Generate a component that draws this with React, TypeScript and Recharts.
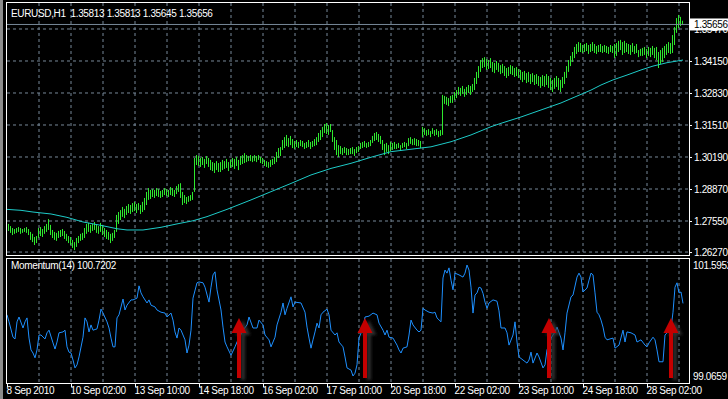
import React from 'react';
import {
  ComposedChart,
  LineChart,
  Bar,
  Line,
  XAxis,
  YAxis,
  CartesianGrid,
  ReferenceLine,
} from 'recharts';

// hourly bars, index 0 = 8 Sep 2010 18:00
const TIME_TICKS = [0, 32, 64, 96, 128, 160, 192, 224, 256, 288, 320];
const TIME_LABELS = [
  '8 Sep 2010', '10 Sep 02:00', '13 Sep 10:00', '14 Sep 18:00', '16 Sep 02:00', '17 Sep 10:00',
  '20 Sep 18:00', '22 Sep 02:00', '23 Sep 10:00', '24 Sep 18:00', '28 Sep 02:00',
];
const GRID_X = [16, 32, 48, 64, 80, 96, 112, 128, 144, 160, 176, 192, 208, 224, 240, 256, 272, 288, 304, 320, 336];
const PRICE_TICKS = [1.3547, 1.3415, 1.3283, 1.3151, 1.3019, 1.2887, 1.2755, 1.2627];
const LAST_PRICE = 1.35656;
const MOM_TICKS = [101.5952, 99.0659];

const HIGH = [
  1.2755, 1.2743, 1.2734, 1.2726, 1.2722, 1.2726, 1.2730, 1.2726, 1.2722, 1.2726,
  1.2730, 1.2722, 1.2710, 1.2702, 1.2689, 1.2693, 1.2726, 1.2730, 1.2722, 1.2734,
  1.2743, 1.2763, 1.2739, 1.2718, 1.2710, 1.2706, 1.2714, 1.2718, 1.2722, 1.2714,
  1.2702, 1.2693, 1.2689, 1.2677, 1.2668, 1.2685, 1.2693, 1.2702, 1.2706, 1.2726,
  1.2743, 1.2747, 1.2739, 1.2743, 1.2751, 1.2739, 1.2734, 1.2747, 1.2739, 1.2726,
  1.2718, 1.2710, 1.2702, 1.2706, 1.2718, 1.2780, 1.2792, 1.2800, 1.2813, 1.2805,
  1.2817, 1.2825, 1.2821, 1.2829, 1.2834, 1.2825, 1.2829, 1.2821, 1.2834, 1.2850,
  1.2875, 1.2891, 1.2883, 1.2887, 1.2883, 1.2891, 1.2887, 1.2879, 1.2883, 1.2891,
  1.2887, 1.2883, 1.2895, 1.2891, 1.2883, 1.2899, 1.2907, 1.2911, 1.2875, 1.2862,
  1.2854, 1.2858, 1.2862, 1.2875, 1.3015, 1.3027, 1.3023, 1.3015, 1.3019, 1.3011,
  1.3023, 1.3015, 1.3007, 1.2998, 1.2994, 1.3002, 1.2994, 1.2998, 1.3007, 1.3002,
  1.3011, 1.2998, 1.3007, 1.3015, 1.3011, 1.3019, 1.3007, 1.3023, 1.3027, 1.3035,
  1.3027, 1.3023, 1.3027, 1.3023, 1.3027, 1.3023, 1.3027, 1.3019, 1.3015, 1.3007,
  1.3002, 1.2998, 1.3007, 1.3011, 1.3019, 1.3040, 1.3056, 1.3060, 1.3089, 1.3101,
  1.3110, 1.3097, 1.3106, 1.3093, 1.3085, 1.3089, 1.3081, 1.3089, 1.3085, 1.3077,
  1.3081, 1.3089, 1.3081, 1.3085, 1.3093, 1.3101, 1.3118, 1.3130, 1.3143, 1.3155,
  1.3159, 1.3151, 1.3155, 1.3130, 1.3101, 1.3089, 1.3068, 1.3064, 1.3056, 1.3060,
  1.3056, 1.3052, 1.3056, 1.3060, 1.3052, 1.3060, 1.3064, 1.3077, 1.3081, 1.3085,
  1.3077, 1.3081, 1.3089, 1.3106, 1.3118, 1.3122, 1.3114, 1.3106, 1.3089, 1.3073,
  1.3077, 1.3068, 1.3081, 1.3077, 1.3081, 1.3073, 1.3077, 1.3068, 1.3077, 1.3081,
  1.3077, 1.3097, 1.3101, 1.3093, 1.3097, 1.3093, 1.3089, 1.3085, 1.3143, 1.3138,
  1.3130, 1.3134, 1.3126, 1.3138, 1.3130, 1.3134, 1.3126, 1.3130, 1.3275, 1.3271,
  1.3267, 1.3262, 1.3271, 1.3275, 1.3287, 1.3295, 1.3308, 1.3304, 1.3312, 1.3300,
  1.3308, 1.3316, 1.3312, 1.3320, 1.3345, 1.3370, 1.3394, 1.3419, 1.3427, 1.3431,
  1.3423, 1.3419, 1.3427, 1.3411, 1.3407, 1.3415, 1.3407, 1.3398, 1.3403, 1.3394,
  1.3386, 1.3390, 1.3398, 1.3394, 1.3386, 1.3390, 1.3382, 1.3378, 1.3370, 1.3374,
  1.3365, 1.3370, 1.3361, 1.3365, 1.3357, 1.3361, 1.3353, 1.3349, 1.3357, 1.3353,
  1.3361, 1.3353, 1.3345, 1.3337, 1.3345, 1.3353, 1.3345, 1.3337, 1.3349, 1.3370,
  1.3394, 1.3419, 1.3436, 1.3452, 1.3473, 1.3485, 1.3493, 1.3489, 1.3481, 1.3485,
  1.3489, 1.3481, 1.3485, 1.3493, 1.3485, 1.3477, 1.3481, 1.3485, 1.3477, 1.3481,
  1.3477, 1.3473, 1.3481, 1.3477, 1.3485, 1.3489, 1.3498, 1.3502, 1.3493, 1.3498,
  1.3489, 1.3485, 1.3481, 1.3489, 1.3477, 1.3485, 1.3460, 1.3465, 1.3469, 1.3473,
  1.3465, 1.3473, 1.3469, 1.3477, 1.3469, 1.3473, 1.3452, 1.3460, 1.3469, 1.3477,
  1.3485, 1.3493, 1.3489, 1.3522, 1.3555, 1.3592, 1.3605, 1.3597, 1.3581,
];

const LOW = [
  1.2718, 1.2714, 1.2706, 1.2697, 1.2702, 1.2706, 1.2710, 1.2702, 1.2706, 1.2710,
  1.2706, 1.2697, 1.2677, 1.2668, 1.2656, 1.2664, 1.2685, 1.2693, 1.2689, 1.2702,
  1.2710, 1.2718, 1.2697, 1.2685, 1.2677, 1.2673, 1.2685, 1.2689, 1.2693, 1.2681,
  1.2673, 1.2664, 1.2656, 1.2644, 1.2635, 1.2648, 1.2664, 1.2673, 1.2677, 1.2685,
  1.2702, 1.2710, 1.2706, 1.2714, 1.2718, 1.2706, 1.2702, 1.2710, 1.2697, 1.2689,
  1.2681, 1.2677, 1.2664, 1.2673, 1.2685, 1.2710, 1.2743, 1.2759, 1.2772, 1.2767,
  1.2780, 1.2788, 1.2784, 1.2792, 1.2796, 1.2788, 1.2800, 1.2784, 1.2792, 1.2800,
  1.2821, 1.2842, 1.2846, 1.2854, 1.2850, 1.2858, 1.2854, 1.2850, 1.2854, 1.2862,
  1.2858, 1.2854, 1.2862, 1.2858, 1.2854, 1.2866, 1.2875, 1.2850, 1.2821, 1.2829,
  1.2825, 1.2834, 1.2838, 1.2842, 1.2875, 1.2986, 1.2982, 1.2978, 1.2986, 1.2974,
  1.2990, 1.2978, 1.2965, 1.2961, 1.2953, 1.2965, 1.2957, 1.2957, 1.2965, 1.2970,
  1.2974, 1.2961, 1.2974, 1.2978, 1.2970, 1.2982, 1.2965, 1.2986, 1.2990, 1.2994,
  1.2998, 1.3002, 1.3002, 1.2998, 1.3002, 1.2998, 1.3007, 1.2994, 1.2990, 1.2982,
  1.2978, 1.2974, 1.2978, 1.2986, 1.2990, 1.2998, 1.3015, 1.3023, 1.3048, 1.3056,
  1.3064, 1.3060, 1.3068, 1.3056, 1.3052, 1.3060, 1.3056, 1.3064, 1.3060, 1.3052,
  1.3056, 1.3060, 1.3052, 1.3060, 1.3064, 1.3068, 1.3081, 1.3089, 1.3101, 1.3118,
  1.3114, 1.3110, 1.3122, 1.3081, 1.3048, 1.3027, 1.3019, 1.3031, 1.3027, 1.3035,
  1.3027, 1.3027, 1.3031, 1.3031, 1.3023, 1.3035, 1.3040, 1.3052, 1.3056, 1.3060,
  1.3056, 1.3060, 1.3064, 1.3077, 1.3085, 1.3089, 1.3081, 1.3073, 1.3048, 1.3027,
  1.3040, 1.3031, 1.3044, 1.3048, 1.3052, 1.3052, 1.3056, 1.3048, 1.3056, 1.3060,
  1.3052, 1.3064, 1.3073, 1.3068, 1.3068, 1.3064, 1.3064, 1.3056, 1.3101, 1.3110,
  1.3106, 1.3110, 1.3101, 1.3114, 1.3106, 1.3110, 1.3101, 1.3106, 1.3110, 1.3238,
  1.3234, 1.3229, 1.3242, 1.3242, 1.3254, 1.3262, 1.3275, 1.3271, 1.3279, 1.3267,
  1.3275, 1.3283, 1.3275, 1.3287, 1.3295, 1.3320, 1.3345, 1.3370, 1.3386, 1.3390,
  1.3378, 1.3382, 1.3386, 1.3370, 1.3365, 1.3378, 1.3370, 1.3361, 1.3365, 1.3353,
  1.3345, 1.3353, 1.3361, 1.3357, 1.3349, 1.3353, 1.3345, 1.3337, 1.3328, 1.3337,
  1.3324, 1.3328, 1.3320, 1.3328, 1.3316, 1.3320, 1.3312, 1.3304, 1.3312, 1.3308,
  1.3316, 1.3304, 1.3295, 1.3287, 1.3300, 1.3308, 1.3295, 1.3287, 1.3304, 1.3320,
  1.3345, 1.3370, 1.3394, 1.3411, 1.3427, 1.3444, 1.3452, 1.3452, 1.3448, 1.3452,
  1.3456, 1.3444, 1.3452, 1.3456, 1.3448, 1.3444, 1.3452, 1.3452, 1.3448, 1.3452,
  1.3448, 1.3444, 1.3452, 1.3448, 1.3427, 1.3436, 1.3452, 1.3460, 1.3440, 1.3448,
  1.3452, 1.3444, 1.3440, 1.3452, 1.3444, 1.3448, 1.3431, 1.3436, 1.3436, 1.3440,
  1.3427, 1.3436, 1.3431, 1.3440, 1.3427, 1.3419, 1.3386, 1.3403, 1.3411, 1.3427,
  1.3440, 1.3448, 1.3444, 1.3448, 1.3481, 1.3531, 1.3551, 1.3559, 1.3565,
];

// moving average, read at some bars
const MA_X = [0, 7, 13, 22, 30, 38, 47, 55, 60, 68, 77, 85, 93, 100, 110, 122, 132, 142, 152, 162,
  172, 182, 192, 202, 212, 222, 232, 242, 247, 257, 277, 292, 297, 303, 310, 317, 323, 330, 338];
const MA_Y = [1.2803, 1.2799, 1.2792, 1.2784, 1.2770, 1.2751, 1.2737, 1.2723, 1.2718, 1.2718,
  1.2729, 1.2743, 1.2756, 1.2773, 1.2803, 1.2842, 1.2876, 1.2910, 1.2945, 1.2972,
  1.2993, 1.3018, 1.3041, 1.3051, 1.3061, 1.3082, 1.3110, 1.3144, 1.3158, 1.3184,
  1.3242, 1.3295, 1.3316, 1.3337, 1.3357, 1.3378, 1.3394, 1.3408, 1.3419];

const MOM_X = [
  0, 1, 3, 4, 5, 6, 8, 9, 10, 11,
  12, 13, 14, 15, 16, 17, 19, 20, 21, 23,
  24, 25, 26, 28, 29, 30, 31, 32, 33, 34,
  35, 36, 38, 39, 40, 41, 42, 43, 45, 46,
  47, 48, 50, 51, 52, 53, 54, 55, 56, 58,
  59, 60, 62, 63, 65, 66, 67, 68, 70, 71,
  72, 74, 75, 77, 79, 80, 82, 83, 84, 85,
  86, 87, 89, 90, 91, 92, 93, 95, 96, 98,
  99, 101, 102, 103, 104, 105, 107, 108, 109, 110,
  112, 114, 115, 118, 120, 121, 123, 125, 126, 128,
  129, 131, 132, 134, 135, 137, 138, 139, 140, 142,
  143, 144, 147, 149, 150, 151, 152, 153, 154, 155,
  156, 157, 158, 160, 161, 162, 164, 165, 166, 168,
  169, 170, 172, 173, 174, 175, 176, 178, 179, 181,
  183, 185, 186, 188, 189, 190, 191, 193, 195, 196,
  197, 198, 200, 201, 202, 203, 205, 206, 207, 208,
  209, 211, 213, 214, 215, 217, 218, 219, 220, 221,
  222, 223, 224, 226, 228, 229, 230, 231, 232, 233,
  234, 235, 236, 237, 238, 239, 240, 241, 243, 245,
  246, 247, 249, 250, 251, 253, 254, 255, 256, 258,
  260, 261, 262, 263, 265, 266, 268, 269, 270, 272,
  274, 275, 277, 278, 279, 280, 282, 283, 285, 286,
  287, 288, 290, 291, 292, 293, 294, 295, 296, 297,
  298, 299, 300, 303, 304, 306, 308, 309, 310, 312,
  314, 315, 317, 319, 320, 321, 323, 324, 325, 326,
  328, 329, 330, 332, 333, 334, 335, 336, 337, 338,
];
const MOM_Y = [
  100.46, 100.30, 99.95, 99.91, 100.30, 100.41, 100.16, 100.30, 100.39, 99.93,
  99.66, 99.59, 99.48, 99.66, 100.00, 100.00, 99.91, 100.05, 100.11, 99.82,
  99.68, 99.84, 100.05, 100.07, 100.11, 99.73, 99.61, 99.59, 99.43, 99.25,
  99.32, 99.50, 99.95, 100.39, 100.30, 100.07, 100.23, 100.11, 100.14, 100.34,
  100.59, 100.50, 100.30, 100.16, 99.93, 99.73, 99.73, 100.39, 100.46, 100.82,
  100.57, 100.68, 100.80, 100.80, 100.84, 101.12, 100.96, 100.87, 100.73, 100.80,
  100.68, 100.64, 100.57, 100.52, 100.50, 100.41, 100.50, 100.34, 100.07, 99.93,
  100.16, 100.11, 99.89, 99.59, 99.77, 100.11, 100.84, 101.19, 101.21, 101.19,
  101.09, 100.75, 101.09, 101.37, 101.44, 101.03, 100.57, 100.18, 99.84, 99.73,
  99.54, 99.73, 99.84, 100.11, 100.23, 100.41, 100.16, 100.16, 100.34, 100.23,
  100.00, 99.89, 99.73, 99.95, 100.23, 100.52, 100.73, 100.46, 100.61, 100.87,
  100.64, 100.75, 100.73, 100.52, 100.18, 99.93, 99.70, 99.89, 100.07, 100.27,
  100.16, 100.46, 100.52, 100.59, 100.46, 100.11, 100.00, 100.05, 99.84, 99.73,
  99.50, 99.25, 99.20, 99.0659, 99.13, 99.32, 99.93, 100.16, 100.41, 100.43,
  100.50, 100.46, 100.27, 100.11, 100.00, 100.11, 99.95, 99.93, 99.77, 99.66,
  99.59, 99.70, 99.73, 100.00, 100.34, 100.23, 100.11, 100.07, 100.11, 100.61,
  100.57, 100.52, 100.50, 100.52, 100.39, 100.30, 101.30, 101.48, 101.41, 101.53,
  101.25, 101.03, 101.41, 101.37, 101.32, 101.41, 101.5952, 101.48, 101.09, 100.50,
  100.91, 100.96, 101.09, 101.07, 100.95, 100.75, 100.61, 100.73, 100.80, 100.77,
  100.55, 100.16, 100.16, 100.05, 99.77, 100.00, 100.30, 99.84, 99.50, 99.43,
  99.36, 99.43, 99.61, 99.36, 99.59, 99.50, 99.25, 99.32, 99.66, 99.93,
  100.07, 100.18, 99.93, 99.66, 100.05, 100.50, 100.87, 100.91, 101.32, 101.41,
  101.32, 100.98, 101.07, 101.25, 101.41, 101.37, 100.96, 100.52, 100.46, 100.34,
  100.18, 99.95, 99.89, 99.93, 99.70, 99.77, 100.11, 99.84, 100.07, 100.05,
  100.00, 99.84, 99.89, 99.77, 99.73, 99.82, 99.95, 99.89, 99.66, 99.39,
  99.39, 100.00, 100.05, 100.16, 100.52, 101.09, 101.19, 100.96, 100.98, 100.72,
];

// red arrows drawn on the momentum window
const ARROW_X = [116, 179, 271, 332];
const ARROW_TOP = 100.39;
const ARROW_BOTTOM = 99.02;

const FONT = '"Liberation Sans", Arial, sans-serif';
const TXT = { fontFamily: FONT, fontSize: 10, letterSpacing: '-0.35px' };
const GRID = '#778899';

const bars = HIGH.map((h, i) => ({ i, range: [LOW[i], h], ma: null as number | null }));
MA_X.forEach((x, k) => {
  bars[x].ma = MA_Y[k];
});
const momentum = MOM_X.map((x, k) => ({ i: x, m: MOM_Y[k] }));

const OhlcBar = (p: any) => {
  if (p.height == null) return null;
  const cx = Math.floor(p.x + p.width / 2 + 0.01) + 0.5;
  const top = Math.min(p.y, p.y + p.height);
  const bottom = Math.max(p.y, p.y + p.height);
  return <line x1={cx} x2={cx} y1={top} y2={bottom} stroke='#2ee82e' strokeWidth={1} />;
};

const PriceTick = (p: any) => {
  const v = p.payload.value;
  if (v === LAST_PRICE) {
    return (
      <g>
        <rect x={p.x + 1} y={p.y - 6} width={40} height={12} fill='#ffffff' />
        <text x={p.x + 5} y={p.y + 3.6} fill='#000000' style={TXT}>
          {v.toFixed(5)}
        </text>
      </g>
    );
  }
  return (
    <g>
      <line x1={p.x} x2={p.x + 3} y1={p.y + 0.5} y2={p.y + 0.5} stroke='#ffffff' />
      <text x={p.x + 5} y={p.y + 3.6} fill='#ffffff' style={TXT}>
        {v.toFixed(5)}
      </text>
    </g>
  );
};

const MomTick = (p: any) => (
  <text x={p.x + 4} y={p.y + 3.6} fill='#ffffff' style={TXT}>
    {p.payload.value.toFixed(4)}
  </text>
);

const TimeTick = (p: any) => {
  const k = TIME_TICKS.indexOf(p.payload.value);
  const x = Math.floor(p.x + 0.01) + 0.5;
  return (
    <g>
      <line x1={x} x2={x} y1={p.y} y2={p.y + 4} stroke='#ffffff' />
      <text x={p.x - 0.5} y={p.y + 11} fill='#ffffff' style={TXT}>
        {TIME_LABELS[k]}
      </text>
    </g>
  );
};

const Arrow = (p: any) => {
  const cx = p.x1;
  const top = Math.min(p.y1, p.y2);
  const bottom = Math.max(p.y1, p.y2);
  const d = `M${cx - 2},${bottom} L${cx - 2},${top + 15} L${cx - 7.5},${top + 15} L${cx},${top} L${cx + 7.5},${top + 15} L${cx + 2},${top + 15} L${cx + 2},${bottom} Z`;
  return (
    <g>
      <defs>
        <filter id='arrowShade' x='-50%' y='-20%' width='200%' height='140%'>
          <feGaussianBlur stdDeviation='1.6' />
        </filter>
      </defs>
      <path d={d} fill='#3a3a3a' opacity={0.8} transform='translate(4,2)' filter='url(#arrowShade)' />
      <path d={d} fill='#c40000' />
    </g>
  );
};

export default function App() {
  return (
    <div style={{ position: 'fixed', left: 0, top: 0, width: 728, height: 399, background: '#000', overflow: 'hidden' }}>
      <div style={{ position: 'absolute', left: 0, top: 0 }}>
        <ComposedChart width={728} height={256} data={bars} margin={{ top: 3, right: 0, bottom: 2, left: 7 }}>
          <CartesianGrid stroke={GRID} strokeDasharray='3 3' verticalValues={GRID_X} horizontalValues={PRICE_TICKS} />
          <XAxis type='number' dataKey='i' domain={[0, 341]} ticks={GRID_X} hide allowDataOverflow />
          <YAxis
            orientation='right'
            width={39}
            domain={[1.26189, 1.36542]}
            ticks={[...PRICE_TICKS, LAST_PRICE]}
            interval={0}
            tick={PriceTick}
            tickSize={0}
            tickMargin={0}
            axisLine={false}
            tickLine={false}
            allowDataOverflow
          />
          <ReferenceLine y={LAST_PRICE} stroke={GRID} />
          <Bar dataKey='range' barSize={1} shape={OhlcBar} isAnimationActive={false} />
          <Line dataKey='ma' stroke='#1ecbc8' strokeWidth={1} dot={false} connectNulls isAnimationActive={false} />
        </ComposedChart>
      </div>
      <div style={{ position: 'absolute', left: 0, top: 258 }}>
        <LineChart width={728} height={141} data={momentum} margin={{ top: 1, right: 0, bottom: 0, left: 7 }}>
          <CartesianGrid stroke={GRID} strokeDasharray='3 3' horizontal={false} verticalValues={GRID_X} />
          <XAxis
            type='number'
            dataKey='i'
            domain={[0, 341]}
            ticks={TIME_TICKS}
            interval={0}
            height={16}
            tick={TimeTick}
            tickSize={0}
            tickMargin={0}
            axisLine={false}
            tickLine={false}
            allowDataOverflow
          />
          <YAxis
            orientation='right'
            width={39}
            domain={[98.9064, 101.732]}
            ticks={MOM_TICKS}
            interval={0}
            tick={MomTick}
            tickSize={0}
            tickMargin={0}
            axisLine={false}
            tickLine={false}
            allowDataOverflow
          />
          <Line dataKey='m' stroke='#1e90ff' strokeWidth={1} dot={false} isAnimationActive={false} />
          {ARROW_X.map((x) => (
            <ReferenceLine
              key={x}
              segment={[
                { x, y: ARROW_BOTTOM },
                { x, y: ARROW_TOP },
              ]}
              shape={Arrow}
            />
          ))}
        </LineChart>
      </div>
      <svg width={728} height={399} style={{ position: 'absolute', left: 0, top: 0, pointerEvents: 'none' }}>
        <rect x={0} y={0} width={3} height={399} fill='#8c8c8c' />
        <rect x={6.5} y={2.5} width={683} height={253} fill='none' stroke='#ffffff' />
        <rect x={6.5} y={258.5} width={683} height={125} fill='none' stroke='#ffffff' />
        <text x={11} y={17} fill='#ffffff' style={TXT}>
          EURUSD,H1{'\u00a0\u00a0'}1.35813 1.35813 1.35645 1.35656
        </text>
        <text x={11} y={269} fill='#ffffff' style={TXT}>
          Momentum(14) 100.7202
        </text>
      </svg>
    </div>
  );
}
